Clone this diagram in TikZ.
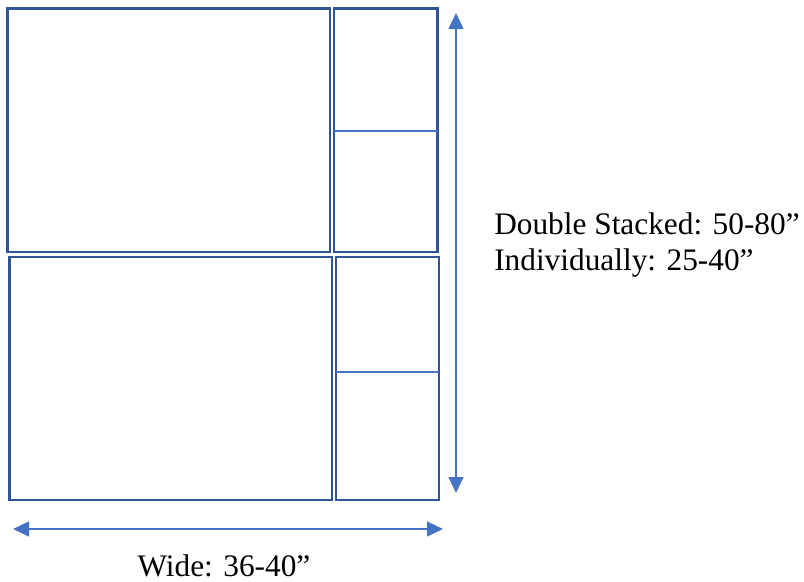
\documentclass[tikz,border=0pt]{standalone}
\usepackage{fontspec}
\setmainfont{Liberation Serif}
\usetikzlibrary{arrows.meta}
\definecolor{boxblue}{HTML}{2F5597}
\definecolor{lineblue}{HTML}{4472C4}
\begin{document}
\begin{tikzpicture}[x=0.75pt, y=-0.75pt,
    box/.style={draw=boxblue, line width=1.7pt},
    split/.style={draw=lineblue, line width=1pt},
    dim/.style={draw=lineblue, line width=1.8pt, {Triangle[length=12pt,width=11pt]}-{Triangle[length=12pt,width=11pt]}},
    label/.style={font=\fontsize{23.5}{22.5}\selectfont, inner sep=0pt, text depth=0pt}]
    \useasboundingbox (0,0) rectangle (804,582);
    % upper pair
    \draw[box] (7.5,8.5) rectangle (330,252);
    \draw[box] (334,8.5) rectangle (437.5,252);
    \draw[split] (334,131) -- (437.5,131);
    % lower pair
    \draw[box] (9.5,257) rectangle (332,500);
    \draw[box] (336,257) rectangle (439,500);
    \draw[split] (336,372) -- (439,372);
    % dimensions
    \coordinate (htop) at (456,13);
    \coordinate (hbot) at (456,493);
    \coordinate (wleft) at (13,529);
    \coordinate (wright) at (443,529);
    \draw[dim] (htop) -- (hbot);
    \draw[dim] (wleft) -- (wright);
    \node[label, anchor=base west] (stacked) at (494,234) {Double Stacked: 50-80”};
    \node[label, anchor=base west] (single) at (494,270) {Individually: 25-40”};
    \node[label, anchor=base] (wide) at (224,576) {Wide: 36-40”};
\end{tikzpicture}
\end{document}
